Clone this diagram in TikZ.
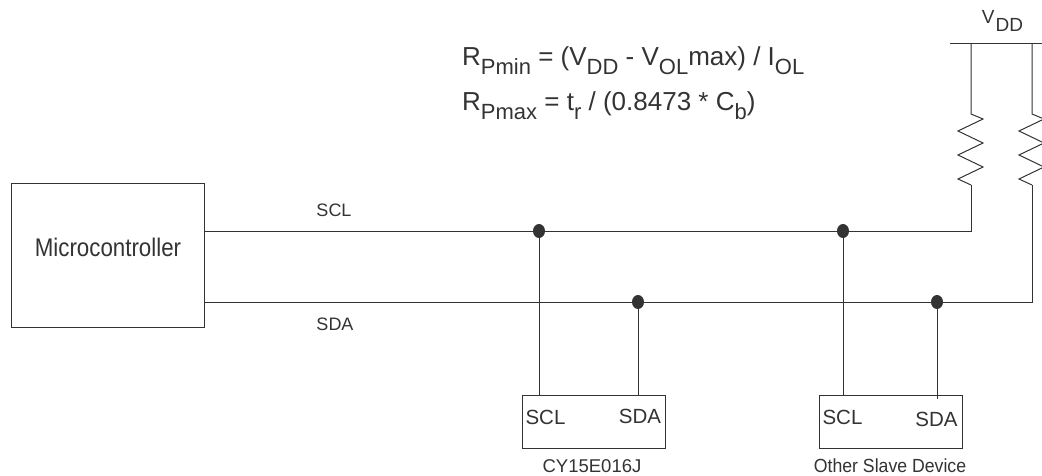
\documentclass[tikz,border=0pt]{standalone}
\usepackage{xcolor}
\usepackage{amsmath}
\usepackage{fontspec}
\setmainfont{Liberation Sans}
\definecolor{inkgray}{HTML}{333333}
\newcommand{\sub}[1]{\raisebox{-0.32em}{\fontsize{22}{22}\selectfont #1}}
\tikzset{
    wire/.style={draw=inkgray, line width=1pt},
    chipbox/.style={draw=inkgray, line width=1pt, inner sep=0pt, anchor=north west},
    junction/.style={ellipse, fill=inkgray, inner sep=0pt, minimum width=12pt, minimum height=14pt},
    lbl/.style={text=inkgray, inner sep=0pt}
}
\usetikzlibrary{shapes.geometric}
\begin{document}
\begin{tikzpicture}[x=1pt, y=-1pt]
        \useasboundingbox (0,0) rectangle (1042,476);

        % Boxes
        \node[chipbox, minimum width=193pt, minimum height=144pt] (mcu) at (11,183) {};
        \node[lbl, font=\fontsize{25.5}{28}\selectfont, xscale=0.875] (mcutext) at (108,247) {Microcontroller};
        \node[chipbox, minimum width=143pt, minimum height=53pt] (chipa) at (522,395) {};
        \node[chipbox, minimum width=143pt, minimum height=53pt] (chipb) at (819,395) {};

        % Bus ends
        \coordinate (sclstart) at (204,231);
        \coordinate (sdastart) at (204,302);
        \coordinate (rupa) at (971,114);
        \coordinate (rdna) at (971,185);
        \coordinate (rupb) at (1032,114);
        \coordinate (rdnb) at (1032,185);
        \coordinate (vddl) at (950,44);
        \coordinate (vddr) at (1042,44);
        \coordinate (sclend) at (971,231);
        \coordinate (sdaend) at (1032,302);
        \coordinate (sdapin) at (937,399);

        % Junctions
        \node[junction] (sclj1) at (539,231) {};
        \node[junction] (sclj2) at (843,231) {};
        \node[junction] (sdaj1) at (638,302) {};
        \node[junction] (sdaj2) at (937,302) {};

        % Bus lines
        \draw[wire] (sclstart) -- (sclj1) -- (sclj2) -- (sclend) -- (rdna);
        \draw[wire] (sdastart) -- (sdaj1) -- (sdaj2) -- (sdaend) -- (rdnb);
        \draw[wire] (sclj1.center) -- (sclj1.center |- chipa.north);
        \draw[wire] (sdaj1.center) -- (sdaj1.center |- chipa.north);
        \draw[wire] (sclj2.center) -- (sclj2.center |- chipb.north);
        \draw[wire] (sdaj2.center) -- (sdapin);

        % Pull-up resistors
        \draw[wire] (vddl) -- (vddr);
        \foreach \up/\dn in {rupa/rdna, rupb/rdnb} {
            \draw[wire, line join=miter] (\up |- vddl) -- (\up) -- ++(12,5) -- ++(-25,12) -- ++(25,12)
                -- ++(-25,12) -- ++(25,12) -- ++(-25,12) -- (\dn);
        }

        % Labels
        \node[lbl, font=\fontsize{18}{21}\selectfont] (scltext) at (334,210) {SCL};
        \node[lbl, font=\fontsize{18}{21}\selectfont] (sdatext) at (335,324) {SDA};
        \node[lbl, font=\fontsize{20.5}{24}\selectfont] (sclpina) at (545.5,417) {SCL};
        \node[lbl, font=\fontsize{20.5}{24}\selectfont] (sdapina) at (640,416) {SDA};
        \node[lbl, font=\fontsize{20.5}{24}\selectfont] (sclpinb) at (842.5,417) {SCL};
        \node[lbl, font=\fontsize{20.5}{24}\selectfont] (sdapinb) at (936.5,419) {SDA};
        \node[lbl, font=\fontsize{18.5}{22}\selectfont] (chipaname) at (592,466) {CY15E016J};
        \node[lbl, font=\fontsize{19}{22}\selectfont, xscale=0.93] (chipbname) at (890,466) {Other Slave Device};
        \node[lbl, font=\fontsize{19}{22}\selectfont] (vddtext) at (1002.5,21) {V\kern1pt\raisebox{-0.45em}{DD}};

        % Formulas
        \node[lbl, anchor=base west, font=\fontsize{26}{30}\selectfont] (rmin) at (462,66)
            {R\sub{Pmin} = (V\sub{DD} - V\sub{OL}max) / I\sub{OL}};
        \node[lbl, anchor=base west, font=\fontsize{26}{30}\selectfont] (rmax) at (462,111)
            {R\sub{Pmax} = t\sub{r} / (0.8473 * C\sub{b})};
    \end{tikzpicture}
\end{document}
